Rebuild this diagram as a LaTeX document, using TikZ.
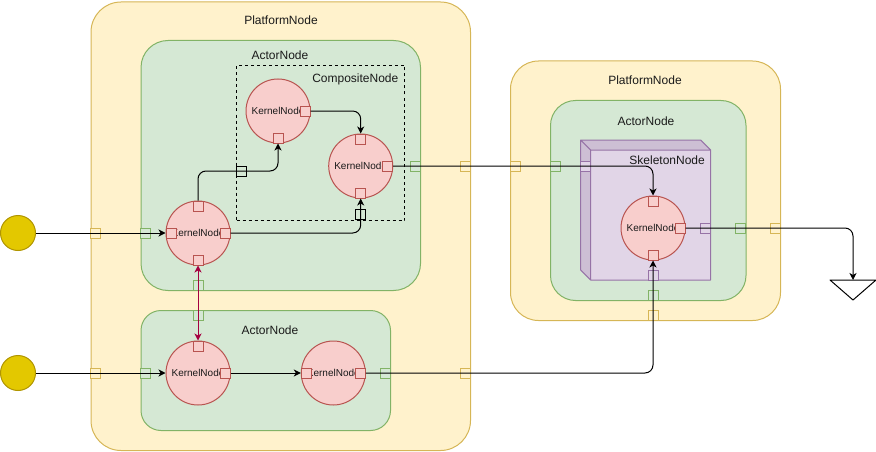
\documentclass[tikz,border=0pt]{standalone}
\usepackage{fontspec}
\setmainfont{Liberation Sans}
\usetikzlibrary{arrows.meta,calc}
\definecolor{platF}{HTML}{FFF2CC}
\definecolor{platD}{HTML}{D6B656}
\definecolor{actF}{HTML}{D5E8D4}
\definecolor{actD}{HTML}{82B366}
\definecolor{kerF}{HTML}{F8CECC}
\definecolor{kerD}{HTML}{B85450}
\definecolor{skF}{HTML}{E1D5E7}
\definecolor{skS}{HTML}{CDBFD4}
\definecolor{skD}{HTML}{9673A6}
\definecolor{srcF}{HTML}{E3C800}
\definecolor{srcD}{HTML}{B09500}
\definecolor{crim}{HTML}{A50040}
\definecolor{txt}{HTML}{1A1A1A}
\begin{document}
\begin{tikzpicture}[x=1pt,y=-1pt,
  box/.style={anchor=north west, inner sep=0pt, line width=1pt},
  platform/.style={box, draw=platD, fill=platF},
  actor/.style={box, draw=actD, fill=actF},
  kernel/.style={circle, draw=kerD, fill=kerF, line width=1pt, minimum size=64pt, inner sep=0pt, text=txt, font=\fontsize{10}{12}\selectfont},
  port/.style={rectangle, minimum size=10pt, inner sep=0pt, line width=1pt},
  pport/.style={port, draw=platD, fill=platF},
  aport/.style={port, draw=actD, fill=actF},
  kport/.style={port, draw=kerD, fill=kerF},
  sport/.style={port, draw=skD, fill=skF},
  cport/.style={port, draw=black},
  lbl/.style={inner sep=0pt, text=txt, font=\fontsize{12}{14}\selectfont},
  source/.style={circle, draw=srcD, fill=srcF, line width=1pt, minimum size=35pt, inner sep=0pt},
  conn/.style={line width=1pt, draw=black, rounded corners=8pt},
  tip/.tip={Stealth[length=7pt,width=7pt,inset=2pt]},
  arr/.style={conn, -tip},
  biarr/.style={line width=1pt, draw=crim, tip-tip}
]
\useasboundingbox (0,0) rectangle (876,452);

% containers
\node[platform, minimum width=379.5pt, minimum height=448.5pt, rounded corners=30pt] (plat1) at (90.5,1.5) {};
\node[lbl] (plat1l) at (281,20) {PlatformNode};
\node[actor, minimum width=279.5pt, minimum height=250pt, rounded corners=27pt] (act1) at (140.5,40) {};
\node[lbl] (act1l) at (280,55.5) {ActorNode};
\node[box, draw=black, dash pattern=on 3pt off 3pt, minimum width=168pt, minimum height=155pt] (comp) at (236,65) {};
\node[lbl, anchor=east] (compl) at (398.5,79) {CompositeNode};
\node[actor, minimum width=249.5pt, minimum height=120pt, rounded corners=20pt] (act2) at (140.5,310) {};
\node[lbl] (act2l) at (270,330.5) {ActorNode};

\node[platform, minimum width=270pt, minimum height=259.5pt, rounded corners=28pt] (plat2) at (510,60.5) {};
\node[lbl] (plat2l) at (645,80) {PlatformNode};
\node[actor, minimum width=195.5pt, minimum height=200pt, rounded corners=25pt] (act3) at (550,100) {};
\node[lbl] (act3l) at (646,121) {ActorNode};

% skeleton cube
\fill[skF] (580.7,140) -- (700.7,140) -- (710.7,150) -- (710.7,280) -- (590.7,280) -- (580.7,270) -- cycle;
\fill[skS] (580.7,140) -- (700.7,140) -- (710.7,150) -- (590.7,150) -- (590.7,280) -- (580.7,270) -- cycle;
\draw[skD, line width=1pt, line join=round] (580.7,140) -- (700.7,140) -- (710.7,150) -- (710.7,280) -- (590.7,280) -- (580.7,270) -- cycle
  (580.7,140) -- (590.7,150) -- (710.7,150) (590.7,150) -- (590.7,280);
\node[box, minimum width=120pt, minimum height=130pt] (skel) at (590.7,150) {};
\node[lbl, anchor=east] (skell) at (705,160) {SkeletonNode};

% sources and sink
\node[source] (src1) at (18,233) {};
\node[source] (src2) at (18,373) {};
\coordinate (sink) at (853,280);
\filldraw[draw=black, fill=white, line width=1pt, line join=round] (830,280) -- (876,280) -- (853,300) -- cycle;

% kernels
\node[kernel] (k1) at (278,111) {KernelNode};
\node[kernel] (k2) at (360.7,166) {KernelNode};
\node[kernel] (k3) at (198,233) {KernelNode};
\node[kernel] (k4) at (198,373) {KernelNode};
\node[kernel] (k5) at (333.3,373) {KernelNode};
\node[kernel] (k6) at (653,228) {KernelNode};

% kernel ports
\node[kport] (k1r) at ($(k1)+(27,0)$) {};
\node[kport] (k1b) at ($(k1)+(0,27)$) {};
\node[kport] (k2t) at ($(k2)+(0,-27)$) {};
\node[kport] (k2r) at ($(k2)+(27,0)$) {};
\node[kport] (k2b) at ($(k2)+(0,27)$) {};
\node[kport] (k3t) at ($(k3)+(0,-27)$) {};
\node[kport] (k3l) at ($(k3)+(-27,0)$) {};
\node[kport] (k3r) at ($(k3)+(27,0)$) {};
\node[kport] (k3b) at ($(k3)+(0,27)$) {};
\node[kport] (k4t) at ($(k4)+(0,-27)$) {};
\node[kport] (k4r) at ($(k4)+(27,0)$) {};
\node[kport] (k5l) at ($(k5)+(-27,0)$) {};
\node[kport] (k5r) at ($(k5)+(27,0)$) {};
\node[kport] (k6t) at ($(k6)+(0,-27)$) {};
\node[kport] (k6r) at ($(k6)+(27,0)$) {};
\node[kport] (k6b) at ($(k6)+(0,27)$) {};

% composite ports
\node[cport] (cp1) at (241.5,171) {};
\node[cport] (cp2) at (360.7,214.5) {};

% actor ports
\node[aport] (a1l) at (145.5,233) {};
\node[aport] (a1r) at (415,166) {};
\node[aport] (a1b) at (198,285) {};
\node[aport] (a2t) at (198,315) {};
\node[aport] (a2l) at (145.5,373) {};
\node[aport] (a2r) at (385,373) {};
\node[aport] (a3l) at (555,166) {};
\node[aport] (a3r) at (740.5,228) {};
\node[aport] (a3b) at (653,295) {};

% platform ports
\node[pport] (p1a) at (95.5,233) {};
\node[pport] (p1b) at (95.5,373) {};
\node[pport] (p1c) at (465,166) {};
\node[pport] (p1d) at (465,373) {};
\node[pport] (p2l) at (515,166) {};
\node[pport] (p2r) at (775,228) {};
\node[pport] (p2b) at (653,315) {};

% skeleton ports
\node[sport] (s1l) at (585.7,166) {};
\node[sport] (s1r) at (705.7,228) {};
\node[sport] (s1b) at (653,275) {};

% connectors
\draw[arr] (src1.east) -- (k3l.west);
\draw[arr] (k3t.north) |- (cp1.center) -| (k1b.south);
\draw[arr] (k1r.east) -| (k2t.north);
\draw[arr] (k3r.east) -| (k2b.south);
\draw[arr] (k2r.east) -| (k6t.north);
\draw[arr] (k6r.east) -| (sink);
\draw[arr] (src2.east) -- (k4.west);
\draw[arr] (k4r.east) -- (k5l.west);
\draw[arr] (k5r.east) -| (k6b.south);
\draw[biarr] (k3b.south) -- (k4t.north);
\end{tikzpicture}
\end{document}
